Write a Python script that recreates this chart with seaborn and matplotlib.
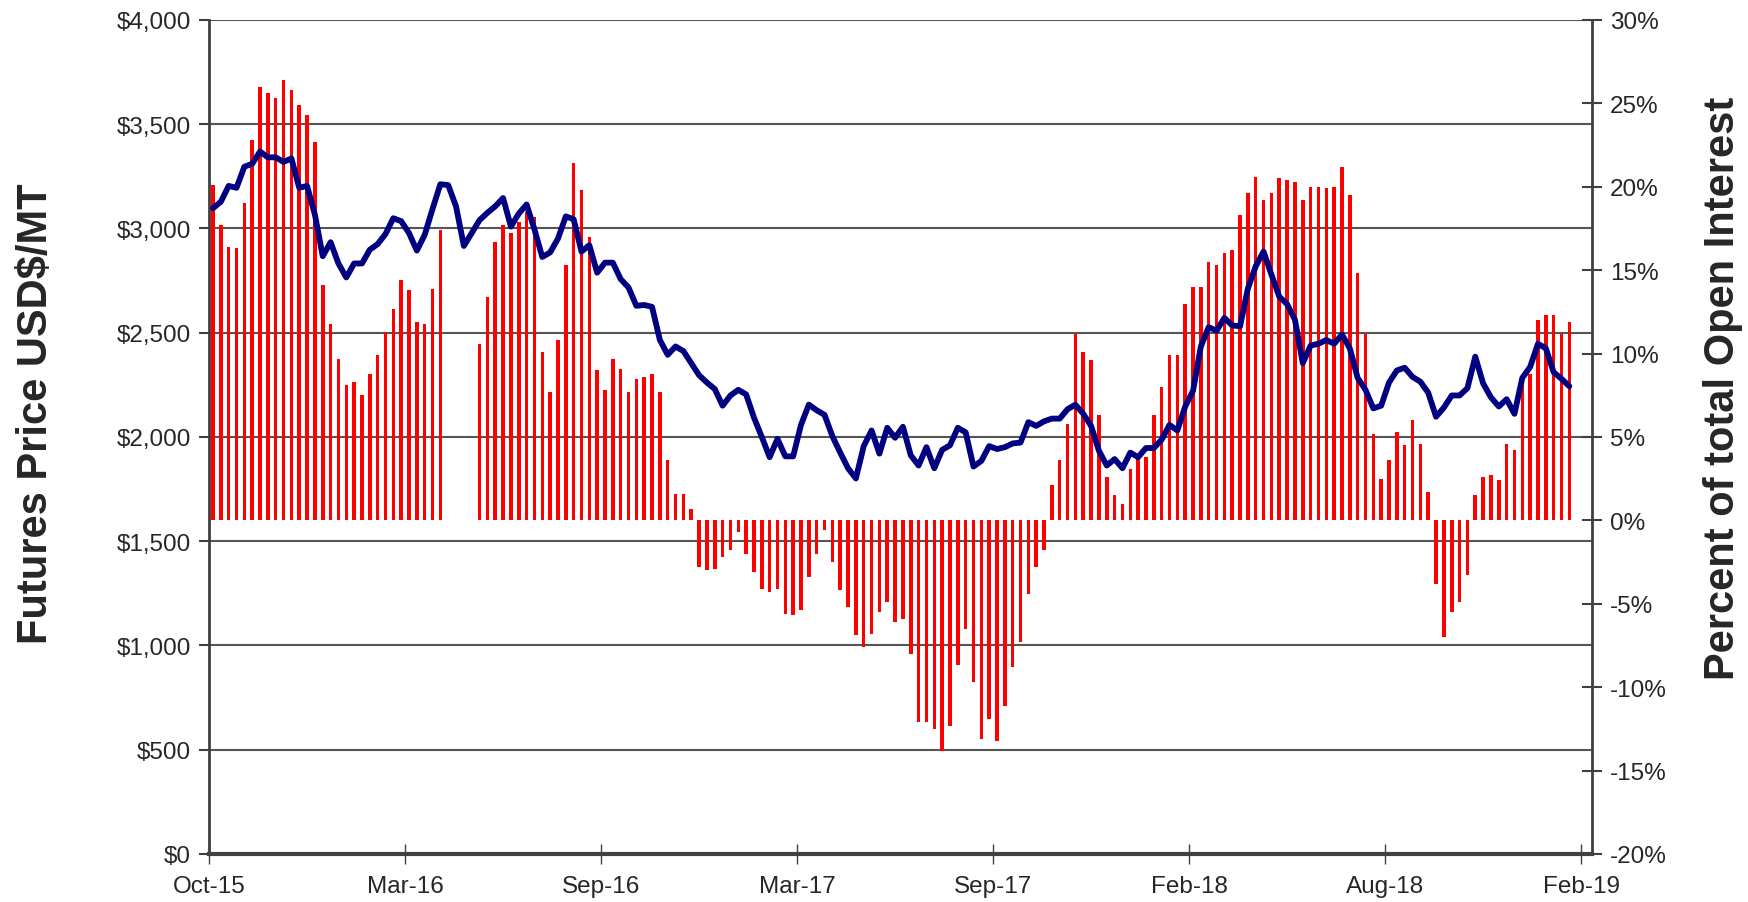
import numpy as np
import matplotlib
matplotlib.use("Agg")
import matplotlib.pyplot as plt
import seaborn as sns
from matplotlib.ticker import FuncFormatter, MultipleLocator

# weekly futures price, USD/MT (left axis)
price = [
    3097, 3128, 3204, 3195, 3296, 3310, 3369, 3341, 3341, 3319,
    3336, 3195, 3204, 3066, 2867, 2934, 2832, 2765, 2832, 2832,
    2898, 2925, 2973, 3049, 3035, 2978, 2894, 2969, 3093, 3212,
    3208, 3106, 2916, 2978, 3040, 3075, 3106, 3146, 3009, 3071,
    3115, 2996, 2863, 2885, 2951, 3058, 3044, 2889, 2920, 2788,
    2836, 2836, 2757, 2717, 2629, 2633, 2624, 2465, 2394, 2434,
    2412, 2354, 2296, 2261, 2230, 2150, 2199, 2226, 2204, 2093,
    2000, 1903, 1991, 1907, 1907, 2058, 2155, 2128, 2106, 2004,
    1925, 1850, 1801, 1956, 2031, 1920, 2044, 1996, 2049, 1912,
    1863, 1951, 1850, 1938, 1960, 2044, 2022, 1858, 1885, 1956,
    1942, 1951, 1969, 1973, 2071, 2053, 2075, 2088, 2088, 2133,
    2155, 2111, 2053, 1934, 1863, 1894, 1850, 1925, 1903, 1947,
    1947, 1987, 2058, 2031, 2146, 2221, 2434, 2527, 2509, 2571,
    2535, 2531, 2712, 2819, 2889, 2779, 2673, 2637, 2562, 2354,
    2438, 2447, 2465, 2447, 2491, 2425, 2283, 2226, 2137, 2150,
    2261, 2319, 2332, 2288, 2265, 2212, 2097, 2141, 2199, 2199,
    2234, 2385, 2257, 2190, 2146, 2181, 2111, 2283, 2336, 2447,
    2425, 2310, 2279, 2243,
]

# net position as percent of total open interest (right axis)
nan = np.nan
pct_oi = [
    20.1, 17.7, 16.4, 16.3, 19.0, 22.8, 26.0, 25.6, 25.3, 26.4,
    25.8, 24.9, 24.3, 22.7, 14.1, 11.8, 9.7, 8.1, 8.3, 7.5,
    8.8, 9.9, 11.3, 12.7, 14.4, 13.8, 11.9, 11.8, 13.9, 17.4,
    nan, nan, nan, nan, 10.6, 13.4, 16.7, 17.7, 17.2, 17.9,
    18.5, 18.2, 10.1, 7.7, 10.8, 15.3, 21.4, 19.8, 17.0, 9.0,
    7.8, 9.7, 9.1, 7.7, 8.5, 8.6, 8.8, 7.7, 3.6, 1.6,
    1.6, 0.7, -2.8, -3.0, -2.9, -2.2, -1.8, -0.7, -2.0, -3.1,
    -4.1, -4.3, -4.1, -5.6, -5.7, -5.4, -3.4, -2.0, -0.6, -2.5,
    -4.2, -5.2, -6.9, -7.6, -6.8, -5.5, -4.9, -6.1, -5.9, -8.0,
    -12.1, -12.1, -12.5, -13.8, -12.3, -8.7, -6.5, -9.7, -13.1, -11.9,
    -13.2, -11.1, -8.8, -7.3, -4.4, -2.8, -1.8, 2.1, 3.6, 5.8,
    11.2, 10.1, 9.6, 6.3, 2.6, 1.5, 1.0, 3.1, 3.7, 3.8,
    6.3, 8.0, 9.9, 9.9, 13.0, 14.0, 14.0, 15.5, 15.3, 16.0,
    16.2, 18.3, 19.6, 20.6, 19.2, 19.6, 20.5, 20.4, 20.3, 19.2,
    20.0, 20.0, 19.9, 20.0, 21.2, 19.5, 14.8, 11.2, 5.2, 2.5,
    3.6, 5.3, 4.5, 6.0, 4.6, 1.7, -3.8, -7.0, -5.5, -4.9,
    -3.3, 1.5, 2.6, 2.7, 2.4, 4.6, 4.2, 8.6, 8.8, 12.0,
    12.3, 12.3, 11.2, 11.9,
]

tick_labels = ["Oct-15", "Mar-16", "Sep-16", "Mar-17",
               "Sep-17", "Feb-18", "Aug-18", "Feb-19"]

assert len(price) == len(pct_oi)

sns.set_style("white")
plt.rcParams["font.family"] = ["Liberation Sans", "DejaVu Sans"]

weeks = np.arange(len(price))
grid_col = "#555555"
axis_col = "#404040"

fig = plt.figure(figsize=(17.48, 9.03), dpi=100)
ax = fig.add_axes([0.1196, 0.0532, 0.7912, 0.9236])
ax2 = ax.twinx()
ax3 = ax.twinx()

# left axis: price scale + gridlines
ax.set_ylim(0, 4000)
ax.yaxis.set_major_locator(MultipleLocator(500))
ax.yaxis.set_major_formatter(FuncFormatter(lambda v, p: f"${v:,.0f}"))
ax.grid(axis="y", color=grid_col, lw=1.5)
ax.grid(axis="x", visible=False)
ax.set_axisbelow(True)

# bars on the right axis
ax2.bar(weeks, pct_oi, width=0.45, color="#ff0000", lw=0)
ax2.set_ylim(-20, 30)
ax2.yaxis.set_major_locator(MultipleLocator(5))
ax2.yaxis.set_major_formatter(FuncFormatter(lambda v, p: f"{v:.0f}%"))

# price line drawn on top
sns.lineplot(x=weeks, y=price, ax=ax3, color="#000080", lw=4.2)
ax3.set_ylim(0, 4000)
ax3.set_yticks([])
ax3.set_ylabel("")

xlim = (-0.5, 175.9)
for a in (ax, ax2, ax3):
    a.set_xlim(*xlim)
    for s in a.spines.values():
        s.set_visible(False)

ax.spines["left"].set_visible(True)
ax.spines["left"].set_color(axis_col)
ax.spines["left"].set_linewidth(2)
ax.spines["bottom"].set_visible(True)
ax.spines["bottom"].set_color(axis_col)
ax.spines["bottom"].set_linewidth(3)
ax2.spines["right"].set_visible(True)
ax2.spines["right"].set_color(axis_col)
ax2.spines["right"].set_linewidth(2)

ax.set_xticks(-0.5 + 25 * np.arange(len(tick_labels)))
ax.set_xticklabels(tick_labels)

ax.tick_params(axis="y", direction="out", length=7, width=1.5,
               color=axis_col, labelsize=17.5, pad=6, left=True)
ax.tick_params(axis="x", direction="inout", length=14, width=1,
               color=axis_col, labelsize=17.5, pad=8, bottom=True)
ax2.tick_params(axis="y", direction="inout", length=14, width=1.5,
                color=axis_col, labelsize=17.5, pad=6, right=True)

ax.set_ylabel("Futures Price USD$/MT", fontsize=30, fontweight="bold")
ax.yaxis.set_label_coords(-0.111, 0.529)
ax2.set_ylabel("Percent of total Open Interest", fontsize=30,
               fontweight="bold")
ax2.yaxis.set_label_coords(1.080, 0.56)

fig.savefig("out.png", dpi=100)
